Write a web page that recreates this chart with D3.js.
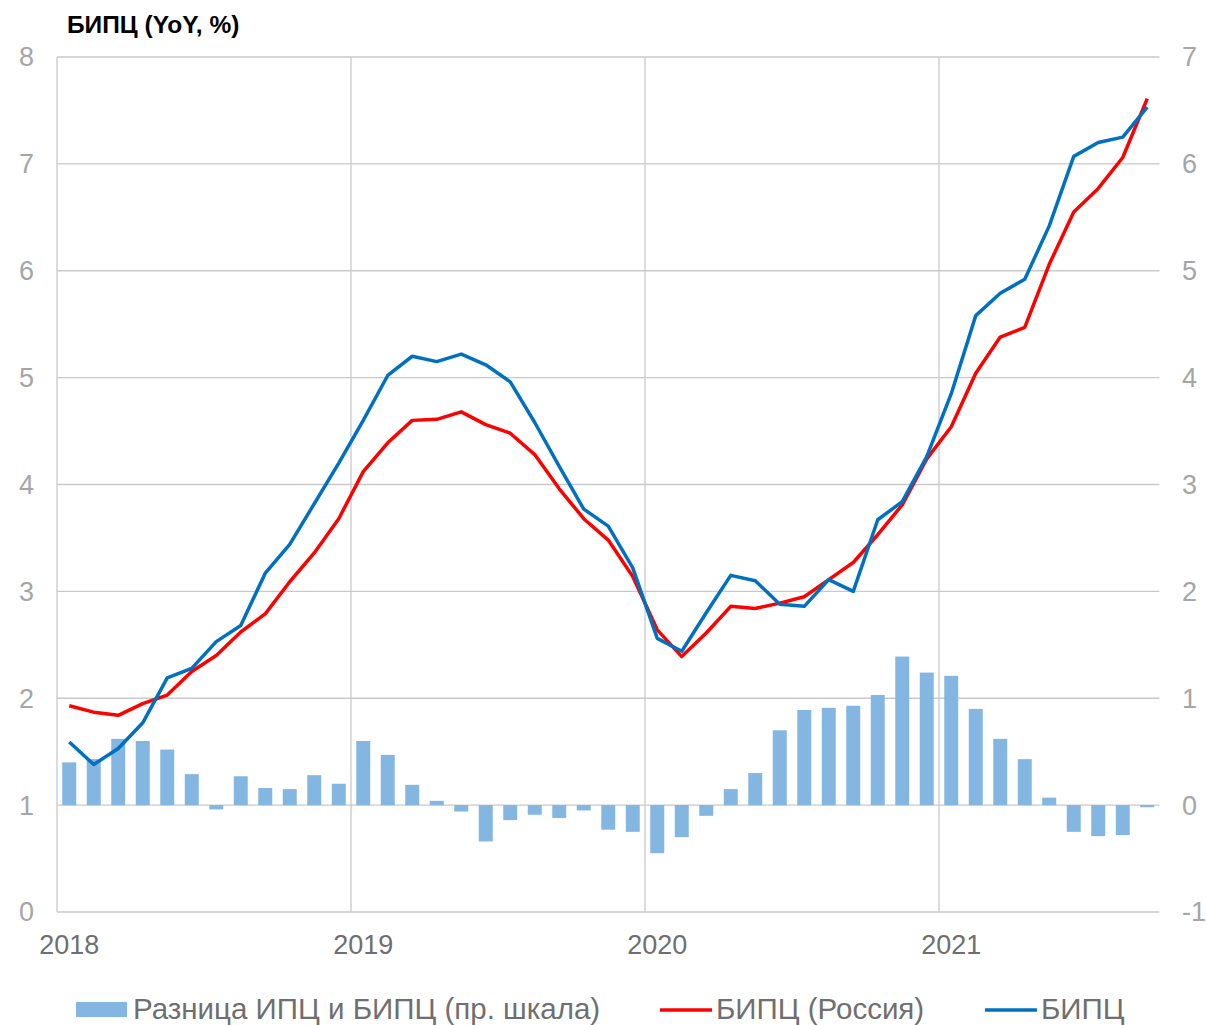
<!DOCTYPE html>
<html>
<head>
<meta charset="utf-8">
<script src="https://cdn.jsdelivr.net/npm/d3@7"></script>
<style>
  body { margin: 0; background: #fff; }
  text { font-family: "Liberation Sans", Arial, sans-serif; }
</style>
</head>
<body>
<script>
// monthly data, Jan 2018 .. Sep 2021
var years = ["2018", "2019", "2020", "2021"];
var diffCpiHicp = [0.40,0.43,0.62,0.60,0.52,0.29,-0.04,0.27,0.16,0.15,0.28,0.20,
                   0.60,0.47,0.19,0.04,-0.06,-0.34,-0.14,-0.09,-0.12,-0.05,-0.23,-0.25,
                   -0.45,-0.30,-0.10,0.15,0.30,0.70,0.89,0.91,0.93,1.03,1.39,1.24,
                   1.21,0.90,0.62,0.43,0.07,-0.25,-0.29,-0.28,-0.02];
var hicpRussia = [1.93,1.87,1.84,1.95,2.03,2.25,2.40,2.62,2.79,3.09,3.36,3.68,
                  4.12,4.39,4.60,4.61,4.68,4.56,4.48,4.28,3.96,3.68,3.48,3.14,
                  2.64,2.39,2.61,2.86,2.84,2.89,2.95,3.11,3.27,3.53,3.81,4.24,
                  4.54,5.04,5.38,5.47,6.06,6.55,6.77,7.06,7.61];
var hicp = [1.59,1.38,1.53,1.77,2.19,2.28,2.53,2.68,3.17,3.44,3.82,4.20,
            4.60,5.02,5.20,5.15,5.22,5.12,4.96,4.58,4.17,3.77,3.61,3.22,
            2.56,2.44,2.80,3.15,3.10,2.88,2.86,3.11,3.00,3.67,3.84,4.26,
            4.85,5.58,5.79,5.92,6.42,7.07,7.20,7.25,7.53];
var leftTicks = [0,1,2,3,4,5,6,7,8];
var rightTicks = [-1,0,1,2,3,4,5,6,7];
var legendLabels = ["Разница ИПЦ и БИПЦ (пр. шкала)", "БИПЦ (Россия)", "БИПЦ"];

var W = 1206, H = 1025;
var L = 57, R = 1159.5, T = 57, B = 912;

var svg = d3.select("body").append("svg").attr("width", W).attr("height", H);

var x = d3.scaleBand().domain(d3.range(diffCpiHicp.length)).range([L, R]).paddingInner(0.43).paddingOuter(0.215);
var xs = d3.scaleBand().domain(d3.range(diffCpiHicp.length)).range([L, R]); // full month slots
var yL = d3.scaleLinear().domain([0, 8]).range([B, T]);
var yR = d3.scaleLinear().domain([-1, 7]).range([B, T]);

var grid = "#c9c9c9";

// horizontal grid
svg.append("g").selectAll("line").data(leftTicks.slice(1)).enter().append("line")
  .attr("x1", L).attr("x2", R)
  .attr("y1", function(d){ return yL(d); }).attr("y2", function(d){ return yL(d); })
  .attr("stroke", grid).attr("stroke-width", 1.3);

// vertical year lines
svg.append("g").selectAll("line").data(years).enter().append("line")
  .attr("x1", function(d,i){ return xs(i*12); }).attr("x2", function(d,i){ return xs(i*12); })
  .attr("y1", T).attr("y2", B)
  .attr("stroke", grid).attr("stroke-width", 1.3);

// bars (right scale)
svg.append("g").selectAll("rect").data(diffCpiHicp).enter().append("rect")
  .attr("x", function(d,i){ return x(i); })
  .attr("width", x.bandwidth())
  .attr("y", function(d){ return yR(Math.max(0, d)); })
  .attr("height", function(d){ return Math.abs(yR(d) - yR(0)); })
  .attr("fill", "#83b6e0");

// bottom axis line
svg.append("line").attr("x1", L).attr("x2", R).attr("y1", B).attr("y2", B)
  .attr("stroke", grid).attr("stroke-width", 1.5);

// lines
var line = function(scale){
  return d3.line().x(function(d,i){ return xs(i) + xs.bandwidth()/2; }).y(function(d){ return scale(d); });
};
svg.append("path").datum(hicpRussia).attr("d", line(yL))
  .attr("fill", "none").attr("stroke", "#ff0000").attr("stroke-width", 3.5).attr("stroke-linejoin", "round");
svg.append("path").datum(hicp).attr("d", line(yL))
  .attr("fill", "none").attr("stroke", "#0070c0").attr("stroke-width", 3.5).attr("stroke-linejoin", "round");

// axes labels
var tickColor = "#a6a6a6";
svg.append("g").selectAll("text").data(leftTicks).enter().append("text")
  .attr("x", 34).attr("y", function(d){ return yL(d); }).attr("dy", "0.35em")
  .attr("text-anchor", "end").attr("font-size", 27).attr("fill", tickColor)
  .text(function(d){ return d; });
svg.append("g").selectAll("text").data(rightTicks).enter().append("text")
  .attr("x", 1182).attr("y", function(d){ return yR(d); }).attr("dy", "0.35em")
  .attr("text-anchor", "start").attr("font-size", 27).attr("fill", tickColor)
  .text(function(d){ return d; });
svg.append("g").selectAll("text").data(years).enter().append("text")
  .attr("x", function(d,i){ return xs(i*12) + xs.bandwidth()/2; }).attr("y", 954)
  .attr("text-anchor", "middle").attr("font-size", 27).attr("fill", "#6f6f6f")
  .text(function(d){ return d; });

// title
svg.append("text").attr("x", 67).attr("y", 33).attr("font-size", 24.5).attr("font-weight", "bold")
  .attr("fill", "#000").text("БИПЦ (YoY, %)");

// legend
var lg = svg.append("g").attr("font-size", 29.5).attr("fill", "#6f6f6f");
lg.append("rect").attr("x", 76).attr("y", 1002).attr("width", 51).attr("height", 15).attr("fill", "#83b6e0");
lg.append("text").attr("x", 133).attr("y", 1019).text(legendLabels[0]);
lg.append("line").attr("x1", 660).attr("x2", 712).attr("y1", 1010).attr("y2", 1010).attr("stroke", "#ff0000").attr("stroke-width", 3.5);
lg.append("text").attr("x", 716).attr("y", 1019).text(legendLabels[1]);
lg.append("line").attr("x1", 985).attr("x2", 1037).attr("y1", 1010).attr("y2", 1010).attr("stroke", "#0070c0").attr("stroke-width", 3.5);
lg.append("text").attr("x", 1041).attr("y", 1019).text(legendLabels[2]);
</script>
</body>
</html>
